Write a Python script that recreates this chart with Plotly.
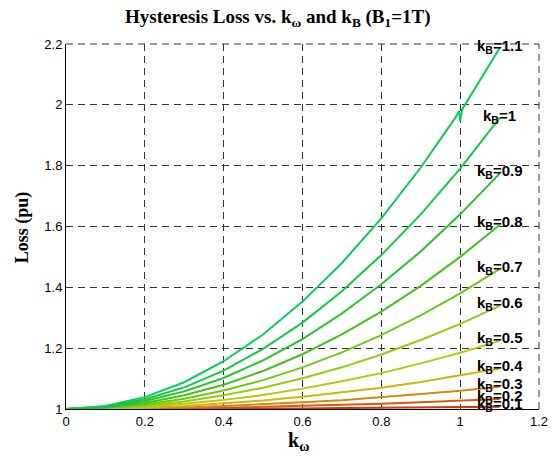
import plotly.graph_objects as go

k_omega = [0.0, 0.1, 0.2, 0.3, 0.4, 0.5, 0.6, 0.7, 0.8, 0.9, 1.0, 1.1]

loss_kB_01 = [1.000, 1.000, 1.000, 1.001, 1.001, 1.002, 1.002, 1.003, 1.004, 1.005, 1.006, 1.007]
loss_kB_02 = [1.000, 1.000, 1.001, 1.002, 1.004, 1.007, 1.010, 1.013, 1.017, 1.022, 1.027, 1.033]
loss_kB_03 = [1.000, 1.001, 1.002, 1.005, 1.010, 1.015, 1.022, 1.029, 1.038, 1.049, 1.060, 1.073]
loss_kB_04 = [1.000, 1.001, 1.004, 1.010, 1.018, 1.028, 1.040, 1.054, 1.070, 1.089, 1.110, 1.133]
loss_kB_05 = [1.000, 1.002, 1.007, 1.017, 1.030, 1.046, 1.067, 1.091, 1.118, 1.150, 1.185, 1.224]
loss_kB_06 = [1.000, 1.003, 1.011, 1.025, 1.045, 1.070, 1.101, 1.137, 1.179, 1.227, 1.280, 1.339]
loss_kB_07 = [1.000, 1.004, 1.015, 1.034, 1.061, 1.095, 1.137, 1.186, 1.243, 1.308, 1.380, 1.460]
loss_kB_08 = [1.000, 1.005, 1.020, 1.045, 1.080, 1.125, 1.180, 1.245, 1.320, 1.405, 1.500, 1.605]
loss_kB_09 = [1.000, 1.006, 1.026, 1.058, 1.102, 1.160, 1.230, 1.314, 1.410, 1.518, 1.640, 1.774]
loss_kB_10 = [1.000, 1.008, 1.032, 1.071, 1.126, 1.198, 1.284, 1.387, 1.506, 1.640, 1.790, 1.956]

# kB = 1.1 curve (has a small glitch near k_omega = 1)
k_omega_11 = [0.0, 0.1, 0.2, 0.3, 0.4, 0.5, 0.6, 0.7, 0.8, 0.9, 0.99, 0.997, 1.0, 1.005, 1.1]
loss_kB_11 = [1.000, 1.010, 1.039, 1.088, 1.157, 1.245, 1.353, 1.480, 1.627, 1.794, 1.962, 1.980, 1.948, 1.985, 2.186]

x_ticks = [0, 0.2, 0.4, 0.6, 0.8, 1, 1.2]
x_tick_text = ["0", "0.2", "0.4", "0.6", "0.8", "1", "1.2"]
y_ticks = [1, 1.2, 1.4, 1.6, 1.8, 2, 2.2]
y_tick_text = ["1", "1.2", "1.4", "1.6", "1.8", "2", "2.2"]

colors = ["#d0380c", "#d85a0c", "#d8880c", "#d2b40c", "#b6c80c", "#94cc10",
          "#6cc816", "#44c21e", "#26c22a", "#14c846", "#0acc5c"]

series = [loss_kB_01, loss_kB_02, loss_kB_03, loss_kB_04, loss_kB_05, loss_kB_06,
          loss_kB_07, loss_kB_08, loss_kB_09, loss_kB_10]
labels = ["0.1", "0.2", "0.3", "0.4", "0.5", "0.6", "0.7", "0.8", "0.9", "1", "1.1"]

fig = go.Figure()
for i, ys in enumerate(series):
    fig.add_trace(go.Scatter(x=k_omega, y=ys, mode="lines",
                             line=dict(color=colors[i], width=2), showlegend=False))
fig.add_trace(go.Scatter(x=k_omega_11, y=loss_kB_11, mode="lines",
                         line=dict(color=colors[10], width=2), showlegend=False))

ends = [s[-1] for s in series] + [loss_kB_11[-1]]
for lab, yend in zip(labels, ends):
    fig.add_annotation(x=1.1, y=yend, xref="x", yref="y",
                       text="<b>k<sub>B</sub>=" + lab + "</b>", showarrow=False,
                       xanchor="center", yanchor="middle", yshift=2,
                       font=dict(family="Liberation Sans, Arial", size=15, color="black"))

# title and axis titles
fig.add_annotation(x=0.448, y=1.071, xref="paper", yref="paper", showarrow=False,
                   text="<b>Hysteresis Loss vs. k<sub>ω</sub> and k<sub>B</sub> (B<sub>1</sub>=1T)</b>",
                   xanchor="center", yanchor="middle",
                   font=dict(family="Liberation Serif, Times New Roman", size=19, color="black"))
fig.add_annotation(x=0.492, y=-0.09, xref="paper", yref="paper", showarrow=False,
                   text="<b>k<sub>ω</sub></b>", xanchor="center", yanchor="middle",
                   font=dict(family="Liberation Serif, Times New Roman", size=20, color="black"))
fig.add_annotation(x=-0.092, y=0.499, xref="paper", yref="paper", showarrow=False,
                   text="<b>Loss (pu)</b>", textangle=-90, xanchor="center", yanchor="middle",
                   font=dict(family="Liberation Serif, Times New Roman", size=18, color="black"))

# top and right dashed borders
fig.add_shape(type="line", xref="paper", yref="paper", x0=0, x1=1, y0=1, y1=1,
              line=dict(color="#333", width=1, dash="7px,5px"))
fig.add_shape(type="line", xref="paper", yref="paper", x0=1, x1=1, y0=0, y1=1,
              line=dict(color="#333", width=1, dash="7px,5px"))

fig.update_xaxes(range=[0, 1.2], tickvals=x_ticks, ticktext=x_tick_text,
                 showgrid=True, gridcolor="#333", gridwidth=1, griddash="7px,5px",
                 showline=True, linecolor="black", linewidth=1, ticks="", zeroline=False,
                 tickfont=dict(family="Liberation Sans, Arial", size=13, color="black"))
fig.update_yaxes(range=[1, 2.2], tickvals=y_ticks, ticktext=y_tick_text,
                 showgrid=True, gridcolor="#333", gridwidth=1, griddash="7px,5px",
                 showline=True, linecolor="black", linewidth=1, ticks="", zeroline=False,
                 tickfont=dict(family="Liberation Sans, Arial", size=13, color="black"))

fig.update_layout(width=550, height=453, plot_bgcolor="white", paper_bgcolor="white",
                  margin=dict(l=58, r=10, t=36, b=52), showlegend=False)

fig.write_html("out.html")
